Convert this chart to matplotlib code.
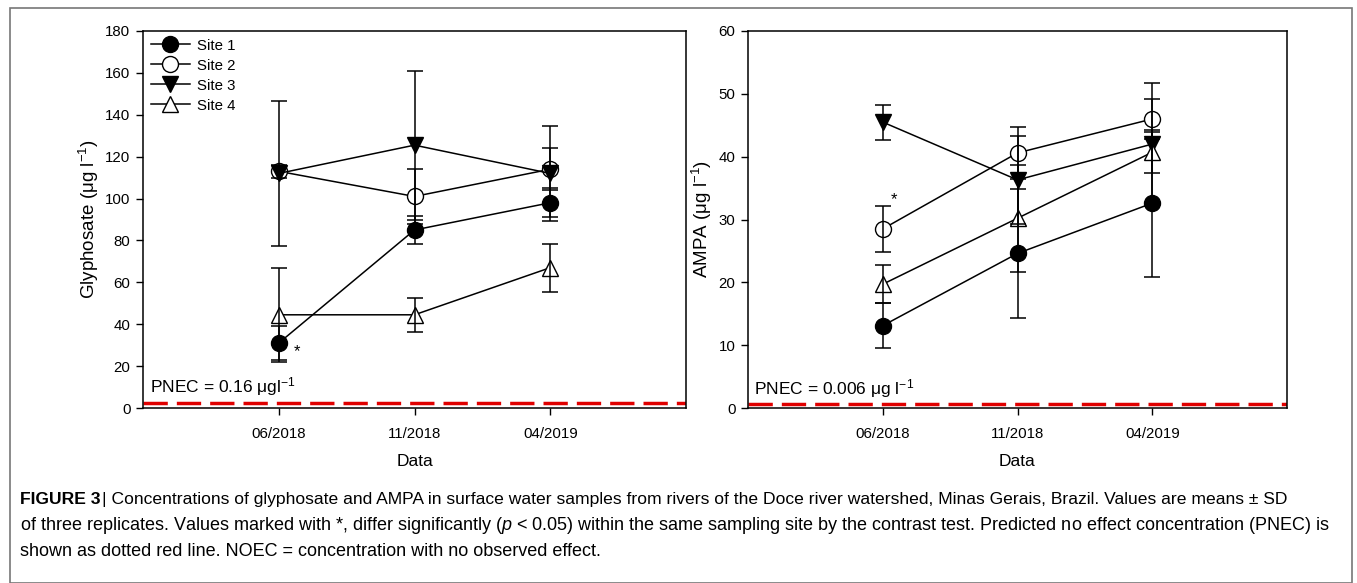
import matplotlib
matplotlib.use("Agg")
import matplotlib.pyplot as plt
from matplotlib.patches import Rectangle

plt.rcParams['font.family'] = ['Liberation Sans', 'DejaVu Sans']
plt.rcParams['mathtext.fontset'] = 'custom'
plt.rcParams['mathtext.rm'] = 'Liberation Sans'
plt.rcParams['mathtext.it'] = 'Liberation Sans:italic'

# ---- data ----
dates = ["06/2018", "11/2018", "04/2019"]
sites = ["Site 1", "Site 2", "Site 3", "Site 4"]

gly_site1 = [31, 85, 98]
gly_site2 = [113, 101, 114]
gly_site3 = [112, 125.5, 112]
gly_site4 = [44.5, 44.5, 67]
gly_err1 = [8, 6.5, 7]
gly_err2 = [3, 13, 10]
gly_err3 = [34.5, 35.5, 22.5]
gly_err4 = [22.5, 8, 11.5]

ampa_site1 = [13.1, 24.6, 32.6]
ampa_site2 = [28.5, 40.6, 46.0]
ampa_site3 = [45.5, 36.3, 42.0]
ampa_site4 = [19.7, 30.2, 40.7]
ampa_err1 = [3.6, 10.3, 11.7]
ampa_err2 = [3.6, 4.2, 3.2]
ampa_err3 = [2.8, 7.0, 9.8]
ampa_err4 = [3.0, 8.5, 3.3]

gly_pnec_line = 2.4
ampa_pnec_line = 0.6

W, H = 1357, 583
fig = plt.figure(figsize=(W / 100, H / 100), dpi=100)

def fx(px):
    return px / W

def fy(py):
    return 1 - py / H

styles = [
    dict(marker='o', mfc='black', mec='black'),
    dict(marker='o', mfc='white', mec='black'),
    dict(marker='v', mfc='black', mec='black'),
    dict(marker='^', mfc='white', mec='black'),
]

def panel(ax, means, errs, ymax, ystep, ylabel, pnec_y, pnec_text, legend=False):
    x = [1, 2, 3]
    for i, (m, e) in enumerate(zip(means, errs)):
        ax.plot(x, m, color='black', lw=1.1, ms=11.5, mew=1.0, zorder=3,
                label=sites[i], **styles[i])
        ax.errorbar(x, m, yerr=e, fmt='none', ecolor='black', elinewidth=1.1,
                    capsize=5.5, capthick=1.1, zorder=4)
    ax.axhline(pnec_y, color='#e00000', lw=2.5, dashes=(7, 2.6), zorder=2)
    ax.set_xlim(0, 4)
    ax.set_ylim(0, ymax)
    ax.set_xticks(x)
    ax.set_xticklabels(dates)
    ax.set_yticks(range(0, ymax + 1, ystep))
    ax.tick_params(axis='both', direction='out', length=5, width=1, labelsize=10.8,
                   top=False, right=False, pad=4)
    ax.tick_params(axis='x', pad=9)
    for s in ax.spines.values():
        s.set_linewidth(1.1)
    ax.set_xlabel("Data", fontsize=12.5, labelpad=9)
    ax.set_ylabel(ylabel, fontsize=13.5, labelpad=3)
    ax.text(0.012, pnec_y + ymax * 0.012, pnec_text, transform=ax.get_yaxis_transform(),
            fontsize=12.5, ha='left', va='bottom')
    if legend:
        ax.legend(loc='upper left', frameon=False, fontsize=10.8, handlelength=2.6,
                  borderaxespad=0.2, labelspacing=0.4, handletextpad=0.5,
                  borderpad=0.3)

ax1 = fig.add_axes([fx(143), fy(408), fx(686 - 143), (408 - 31) / H])
ax2 = fig.add_axes([fx(748), fy(408), fx(1287 - 748), (408 - 31) / H])

panel(ax1, [gly_site1, gly_site2, gly_site3, gly_site4],
      [gly_err1, gly_err2, gly_err3, gly_err4], 180, 20,
      'Glyphosate (\u03bcg l$^{-1}$)', gly_pnec_line,
      'PNEC = 0.16 \u03bcgl$^{-1}$', legend=True)
panel(ax2, [ampa_site1, ampa_site2, ampa_site3, ampa_site4],
      [ampa_err1, ampa_err2, ampa_err3, ampa_err4], 60, 10,
      'AMPA (\u03bcg l$^{-1}$)', ampa_pnec_line,
      'PNEC = 0.006 \u03bcg l$^{-1}$')

# significance asterisks
ax1.annotate('*', xy=(1, gly_site1[0]), xytext=(11, -6), textcoords='offset points',
             fontsize=12, ha='left', va='center')
ax2.annotate('*', xy=(1, ampa_site2[0]), xytext=(6, 21), textcoords='offset points',
             fontsize=12, ha='left', va='center')

# outer frame
fig.patches.append(Rectangle((fx(10), 0), fx(1352 - 10), fy(8), transform=fig.transFigure,
                             fill=False, edgecolor='#777777', lw=1.2))

# caption
cap1_bold = "FIGURE 3"
cap1_rest = ("| Concentrations of glyphosate and AMPA in surface water samples from rivers of the "
             "Doce river watershed, Minas Gerais, Brazil. Values are means \u00b1 SD")
cap2 = ("of three replicates. Values marked with *, differ significantly ($\\it{p}$ < 0.05) within the "
        "same sampling site by the contrast test. Predicted no effect concentration (PNEC) is")
cap3 = "shown as dotted red line. NOEC = concentration with no observed effect."

fig.canvas.draw()
r = fig.canvas.get_renderer()
tb = fig.text(fx(20), fy(504), cap1_bold, fontsize=12.6, fontweight='bold', va='baseline')
bb = tb.get_window_extent(renderer=r)
fig.text(bb.x1 / W + fx(2), fy(504), cap1_rest, fontsize=12.6, va='baseline')
fig.text(fx(20), fy(530), cap2, fontsize=13, va='baseline')
fig.text(fx(20), fy(556), cap3, fontsize=13, va='baseline')

fig.savefig("out.png", dpi=100)
